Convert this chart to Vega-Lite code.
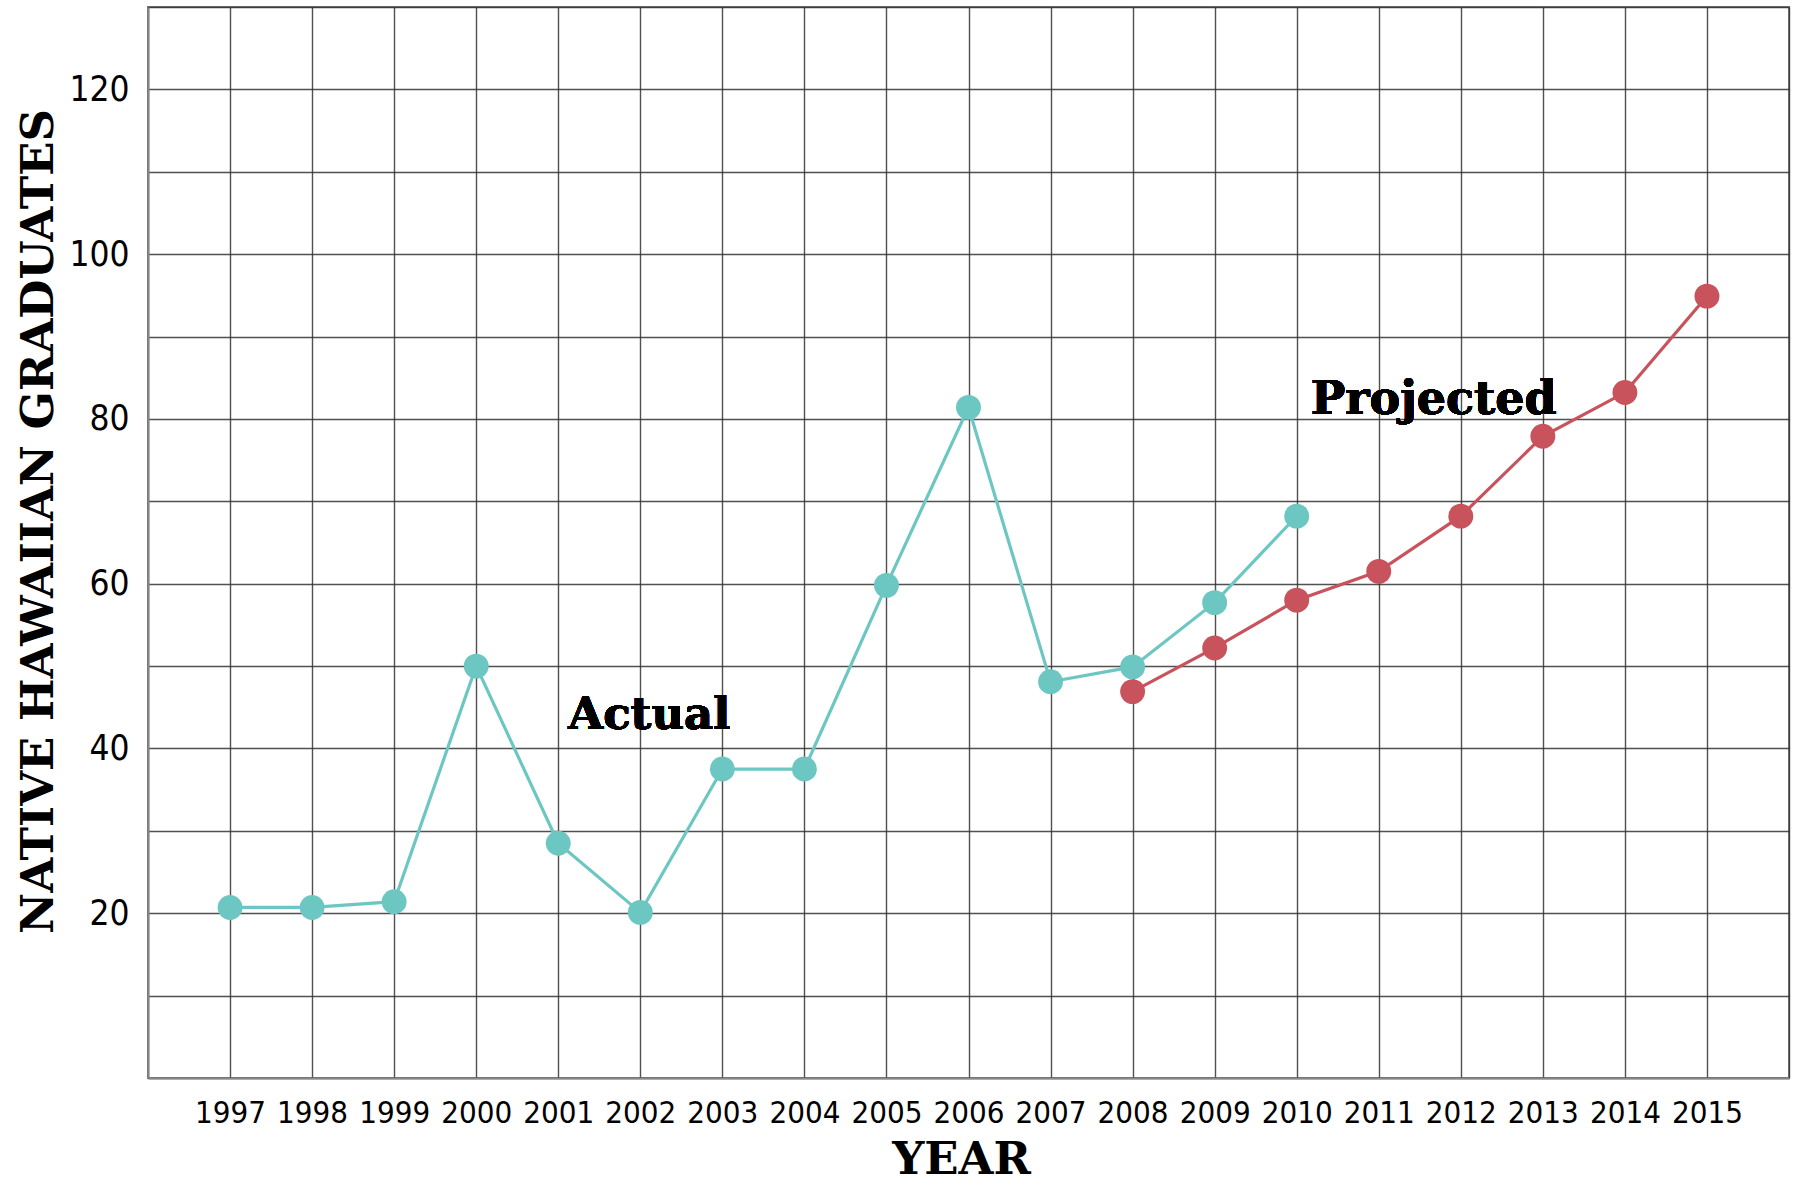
{
  "$schema": "https://vega.github.io/schema/vega-lite/v6.json",
  "width": 1641,
  "height": 1071,
  "autosize": {"type": "none"},
  "padding": {"left": 148, "top": 7, "right": 7, "bottom": 108},
  "background": "white",
  "config": {
    "view": {"stroke": "#777", "strokeWidth": 2},
    "axis": {
      "gridColor": "#333",
      "gridWidth": 1.4,
      "gridOpacity": 0.85,
      "ticks": false,
      "domainColor": "#888",
      "domainWidth": 2,
      "labelColor": "#000",
      "labelFont": "DejaVu Sans Condensed, DejaVu Sans, sans-serif",
      "titleFont": "DejaVu Serif",
      "titleFontWeight": "bold",
      "titleFontSize": 45,
      "titleColor": "#000"
    }
  },
  "data": {
    "values": [
      {"year": 1997, "value": 20.7, "series": "Actual"},
      {"year": 1998, "value": 20.7, "series": "Actual"},
      {"year": 1999, "value": 21.4, "series": "Actual"},
      {"year": 2000, "value": 50, "series": "Actual"},
      {"year": 2001, "value": 28.5, "series": "Actual"},
      {"year": 2002, "value": 20.1, "series": "Actual"},
      {"year": 2003, "value": 37.5, "series": "Actual"},
      {"year": 2004, "value": 37.5, "series": "Actual"},
      {"year": 2005, "value": 59.8, "series": "Actual"},
      {"year": 2006, "value": 81.4, "series": "Actual"},
      {"year": 2007, "value": 48.1, "series": "Actual"},
      {"year": 2008, "value": 49.9, "series": "Actual"},
      {"year": 2009, "value": 57.7, "series": "Actual"},
      {"year": 2010, "value": 68.2, "series": "Actual"},
      {"year": 2008, "value": 46.9, "series": "Projected"},
      {"year": 2009, "value": 52.2, "series": "Projected"},
      {"year": 2010, "value": 58.0, "series": "Projected"},
      {"year": 2011, "value": 61.5, "series": "Projected"},
      {"year": 2012, "value": 68.2, "series": "Projected"},
      {"year": 2013, "value": 77.9, "series": "Projected"},
      {"year": 2014, "value": 83.2, "series": "Projected"},
      {"year": 2015, "value": 94.9, "series": "Projected"}
    ]
  },
  "encoding": {
    "x": {
      "field": "year",
      "type": "quantitative",
      "scale": {"domain": [1996, 2016], "nice": false, "zero": false},
      "axis": {
        "title": "YEAR",
        "values": [1996, 1997, 1998, 1999, 2000, 2001, 2002, 2003, 2004, 2005, 2006, 2007, 2008, 2009, 2010, 2011, 2012, 2013, 2014, 2015, 2016],
        "format": "d",
        "labelExpr": "datum.value > 1996 && datum.value < 2016 ? datum.label : ''",
        "labelFontSize": 31,
        "labelPadding": 20,
        "labelFlush": false,
        "labelOverlap": false,
        "titleX": 813,
        "titleY": 95,
        "titleAlign": "center",
        "titleBaseline": "alphabetic"
      }
    },
    "y": {
      "field": "value",
      "type": "quantitative",
      "scale": {"domain": [0, 130], "nice": false},
      "axis": {
        "title": "NATIVE HAWAIIAN GRADUATES",
        "values": [0, 10, 20, 30, 40, 50, 60, 70, 80, 90, 100, 110, 120, 130],
        "labelExpr": "datum.value % 20 == 0 && datum.value > 0 && datum.value < 130 ? datum.label : ''",
        "labelFontSize": 35,
        "labelPadding": 19,
        "labelFlush": false,
        "labelOverlap": false,
        "titleX": -96,
        "titleY": 514,
        "titleAlign": "center",
        "titleBaseline": "alphabetic"
      }
    }
  },
  "layer": [
    {
      "mark": {"type": "line", "strokeWidth": 3.2},
      "encoding": {
        "color": {
          "field": "series",
          "type": "nominal",
          "scale": {"domain": ["Actual", "Projected"], "range": ["#6cc7c3", "#c8535c"]},
          "legend": null
        }
      }
    },
    {
      "mark": {"type": "circle", "size": 620, "opacity": 1},
      "encoding": {
        "color": {
          "field": "series",
          "type": "nominal",
          "scale": {"domain": ["Actual", "Projected"], "range": ["#4fbfb9", "#c94b56"]},
          "legend": null
        }
      }
    },
    {
      "mark": {"type": "text", "font": "DejaVu Serif", "fontWeight": "bold", "fontSize": 45, "align": "center", "baseline": "alphabetic", "color": "#000"},
      "encoding": {
        "x": {"datum": 2002.11},
        "y": {"datum": 42.4},
        "text": {"value": "Actual"}
      }
    },
    {
      "mark": {"type": "text", "font": "DejaVu Serif", "fontWeight": "bold", "fontSize": 46, "align": "center", "baseline": "alphabetic", "color": "#000"},
      "encoding": {
        "x": {"datum": 2011.67},
        "y": {"datum": 80.6},
        "text": {"value": "Projected"}
      }
    }
  ]
}
